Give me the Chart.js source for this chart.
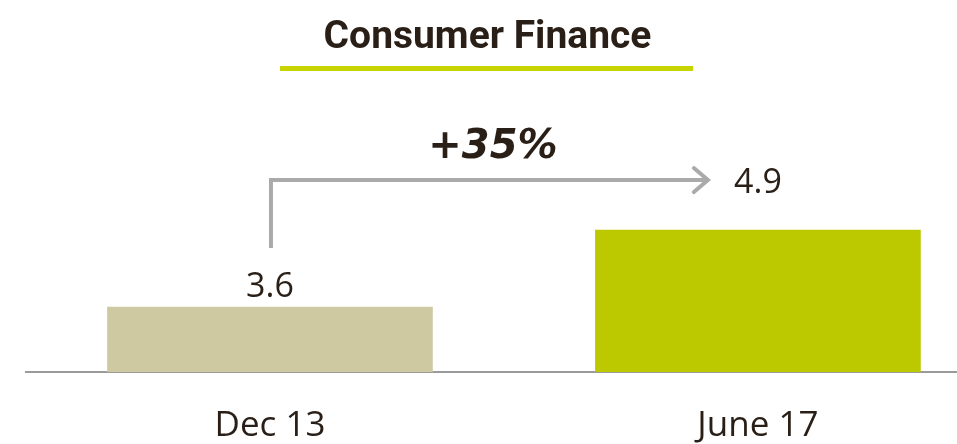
<!DOCTYPE html>
<html>
<head>
<meta charset="utf-8">
<script src="https://cdn.jsdelivr.net/npm/chart.js@4"></script>
<style>
  html, body { margin: 0; padding: 0; background: #fff; }
  #wrap { width: 957px; height: 444px; }
</style>
</head>
<body>
<div id="wrap"><canvas id="chart" width="957" height="444"></canvas></div>
<script>
const categories = ["Dec 13", "June 17"];
const values = [3.6, 4.9];
const valueLabels = ["3.6", "4.9"];
const growthLabel = "+35%";
const titleText = "Consumer Finance";

const barColors = ["#cfc9a2", "#bcc800"];
const textColor = "#2a1f17";

// title, underline, value labels and the growth arrow
const overlayPlugin = {
  id: "overlay",
  afterDatasetsDraw(chart) {
    const ctx = chart.ctx;
    const meta = chart.getDatasetMeta(0);
    const b1 = meta.data[0];
    const b2 = meta.data[1];
    const cx = chart.width / 2 + 9;

    ctx.save();
    ctx.fillStyle = textColor;
    ctx.textAlign = "center";
    ctx.textBaseline = "alphabetic";
    ctx.font = "bold 39px Roboto";
    ctx.fillText(titleText, cx, 48);

    ctx.fillStyle = "#c8d400";
    ctx.fillRect(280, 66, 413, 5);

    // arrow
    const startY = b1.y - 59;
    const cornerY = b2.y - 50;
    const endX = b2.x - 50;
    ctx.strokeStyle = "#aaaaaa";
    ctx.lineWidth = 4;
    ctx.lineJoin = "miter";
    ctx.beginPath();
    ctx.moveTo(b1.x + 1, startY);
    ctx.lineTo(b1.x + 1, cornerY);
    ctx.lineTo(endX, cornerY);
    ctx.stroke();
    ctx.lineCap = "round";
    ctx.beginPath();
    ctx.moveTo(endX - 14, cornerY - 12);
    ctx.lineTo(endX, cornerY);
    ctx.lineTo(endX - 14, cornerY + 12);
    ctx.stroke();

    ctx.fillStyle = textColor;
    ctx.font = "italic bold 40px 'DejaVu Sans'";
    ctx.textBaseline = "middle";
    ctx.fillText(growthLabel, (b1.x + endX) / 2 + 4, cornerY - 32);

    ctx.font = "34px 'Open Sans'";
    ctx.fillText(valueLabels[1], b2.x, cornerY + 3);
    ctx.textBaseline = "alphabetic";
    ctx.fillText(valueLabels[0], b1.x, b1.y - 10);
    ctx.restore();
  }
};

new Chart(document.getElementById("chart"), {
  type: "bar",
  data: {
    datasets: [{
      data: values.map((v, i) => ({ x: i, y: v })),
      backgroundColor: barColors,
      barThickness: 325,
      borderWidth: 0
    }]
  },
  options: {
    responsive: false,
    animation: false,
    layout: { padding: { top: 100, left: 26, right: 0, bottom: 0 } },
    plugins: { legend: { display: false }, tooltip: { enabled: false }, title: { display: false } },
    scales: {
      x: {
        type: "linear",
        offset: false,
        min: -0.5,
        max: 1.408,
        afterBuildTicks(axis) {
          axis.ticks = categories.map((c, i) => ({ value: i }));
        },
        afterFit(axis) {
          axis.height = 72;
        },
        ticks: {
          callback: (v) => categories[v],
          color: textColor,
          font: { family: "'Open Sans'", size: 35 },
          padding: 33,
          maxRotation: 0,
          autoSkip: false
        },
        grid: { display: false, drawTicks: false, offset: false },
        border: { display: true, color: "#9a9a9a", width: 2 }
      },
      y: {
        display: false,
        min: 2.5,
        max: 7.1
      }
    }
  },
  plugins: [overlayPlugin]
});
</script>
</body>
</html>
